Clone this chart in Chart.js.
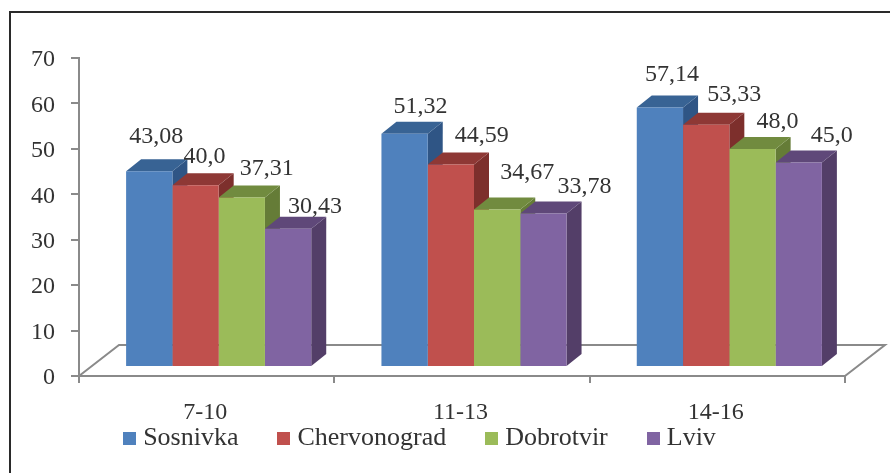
<!DOCTYPE html>
<html><head><meta charset="utf-8">
<style>
html,body{margin:0;padding:0;background:#fff;overflow:hidden}
#w{position:absolute;left:0;top:0;width:890px;height:473px}
#f{position:absolute;left:9px;top:10.5px;width:890px;height:480px;border:2px solid #2a2a2a;box-sizing:border-box}
canvas{position:absolute;left:0;top:0;filter:blur(0.55px)}
</style>
<script src="https://cdn.jsdelivr.net/npm/chart.js@4"></script>
</head><body>
<div id="w"><div id="f"></div><canvas id="c" width="890" height="473"></canvas></div>
<script>
const categories = ['7-10','11-13','14-16'];
const sosnivka = [43.08,51.32,57.14];
const chervonograd = [40.0,44.59,53.33];
const dobrotvir = [37.31,34.67,48.0];
const lviv = [30.43,33.78,45.0];
const seriesNames = ['Sosnivka','Chervonograd','Dobrotvir','Lviv'];
const frontColors = ['#4F81BD','#C0504D','#9BBB59','#8064A2'];
const topColors = ['#386394','#8E3835','#718B3F','#5F4879'];
const sideColors = ['#2F5585','#7D2F2C','#657C37','#533E68'];
const labelShift = [
  [[7,-35],[9,-29],[25,-29],[27,-22]],
  [[16,-27],[31,-29],[30,-37],[41,-27]],
  [[12,-33],[28,-30],[25,-27],[33,-27]]
];
const FONT = 'Liberation Serif';
const TXT = '#333333', AXIS = '#8a8a8a';
const BAR_SHIFT = {x:12,y:-9}, DEPTH = {x:15,y:-12}, FLOOR = {x:40,y:-31};
const LEGEND_SHIFT_Y = -10;
const fmt = v => (Number.isInteger(v) ? v.toFixed(1) : String(v)).replace('.',',');

function swatch(color){
  const c = document.createElement('canvas');
  c.width = 13; c.height = 13;
  const g = c.getContext('2d');
  g.fillStyle = color; g.fillRect(0,0,13,13);
  return c;
}

const pseudo3d = {
  id:'pseudo3d',
  afterLayout(chart){
    chart.legend.top += LEGEND_SHIFT_Y; chart.legend.bottom += LEGEND_SHIFT_Y;
    // the category labels overhang the tight axis box: keep them out of its clip
    chart.scales.x.bottom += 50;
  },
  beforeDatasetsDraw(chart){
    const {ctx,chartArea:a} = chart;
    ctx.save();
    ctx.strokeStyle = AXIS; ctx.lineWidth = 2;
    ctx.beginPath();
    ctx.moveTo(a.left,a.bottom);
    ctx.lineTo(a.left+FLOOR.x,a.bottom+FLOOR.y);
    ctx.lineTo(a.right+FLOOR.x,a.bottom+FLOOR.y);
    ctx.lineTo(a.right,a.bottom);
    ctx.stroke();
    ctx.translate(BAR_SHIFT.x,BAR_SHIFT.y);
    chart.data.datasets.forEach((ds,di)=>{
      chart.getDatasetMeta(di).data.forEach(b=>{
        const p = b.getProps(['x','y','base','width'],true);
        const l=p.x-p.width/2, r=p.x+p.width/2;
        ctx.fillStyle = sideColors[di];
        ctx.beginPath();
        ctx.moveTo(r,p.y);ctx.lineTo(r+DEPTH.x,p.y+DEPTH.y);ctx.lineTo(r+DEPTH.x,p.base+DEPTH.y);ctx.lineTo(r,p.base);
        ctx.closePath();ctx.fill();
        ctx.fillStyle = topColors[di];
        ctx.beginPath();
        ctx.moveTo(l,p.y);ctx.lineTo(l+DEPTH.x,p.y+DEPTH.y);ctx.lineTo(r+DEPTH.x,p.y+DEPTH.y);ctx.lineTo(r,p.y);
        ctx.closePath();ctx.fill();
      });
    });
  },
  afterDatasetsDraw(chart){
    const {ctx} = chart;
    ctx.restore();
    ctx.save();
    ctx.font = '24px "'+FONT+'"';
    ctx.fillStyle = TXT;
    ctx.textAlign='center';ctx.textBaseline='middle';
    chart.data.datasets.forEach((ds,di)=>{
      chart.getDatasetMeta(di).data.forEach((b,ci)=>{
        const p = b.getProps(['x','y'],true), s = labelShift[ci][di];
        ctx.fillText(fmt(ds.data[ci]),p.x+BAR_SHIFT.x+s[0],p.y+BAR_SHIFT.y+s[1]);
      });
    });
    ctx.restore();
  }
};

new Chart(document.getElementById('c'),{
  type:'bar',
  data:{labels:categories,datasets:[sosnivka,chervonograd,dobrotvir,lviv].map((d,i)=>({
    label:seriesNames[i],data:d,backgroundColor:frontColors[i],borderWidth:0,
    categoryPercentage:0.725,barPercentage:1,clip:false
  }))},
  options:{
    responsive:false,animation:false,
    layout:{padding:{left:0,right:45,top:58,bottom:2}},
    plugins:{
      tooltip:{enabled:false},
      legend:{position:'bottom',
        labels:{
          usePointStyle:true,pointStyleWidth:1,boxHeight:13,padding:45,color:TXT,font:{family:FONT,size:26},
          generateLabels(chart){
            return Chart.defaults.plugins.legend.labels.generateLabels(chart).map((it,i)=>{
              it.pointStyle = swatch(frontColors[i]);
              return it;
            });
          }
        }
      }
    },
    scales:{
      x:{
        offset:true,
        afterFit(s){s.height=14;},
        grid:{display:true,drawOnChartArea:false,drawTicks:true,tickLength:7,color:AXIS,lineWidth:2,offset:true},
        border:{color:AXIS,width:2},
        ticks:{color:TXT,font:{family:FONT,size:24},padding:15,labelOffset:-1.5,maxRotation:0}
      },
      y:{
        min:0,max:70,
        afterFit(s){s.width=79;},
        grid:{display:true,drawOnChartArea:false,drawTicks:true,tickLength:8,color:AXIS,lineWidth:2},
        border:{color:AXIS,width:2},
        ticks:{stepSize:10,color:TXT,font:{family:FONT,size:24},padding:16,labelOffset:2}
      }
    }
  },
  plugins:[pseudo3d]
});
</script>
</body></html>
